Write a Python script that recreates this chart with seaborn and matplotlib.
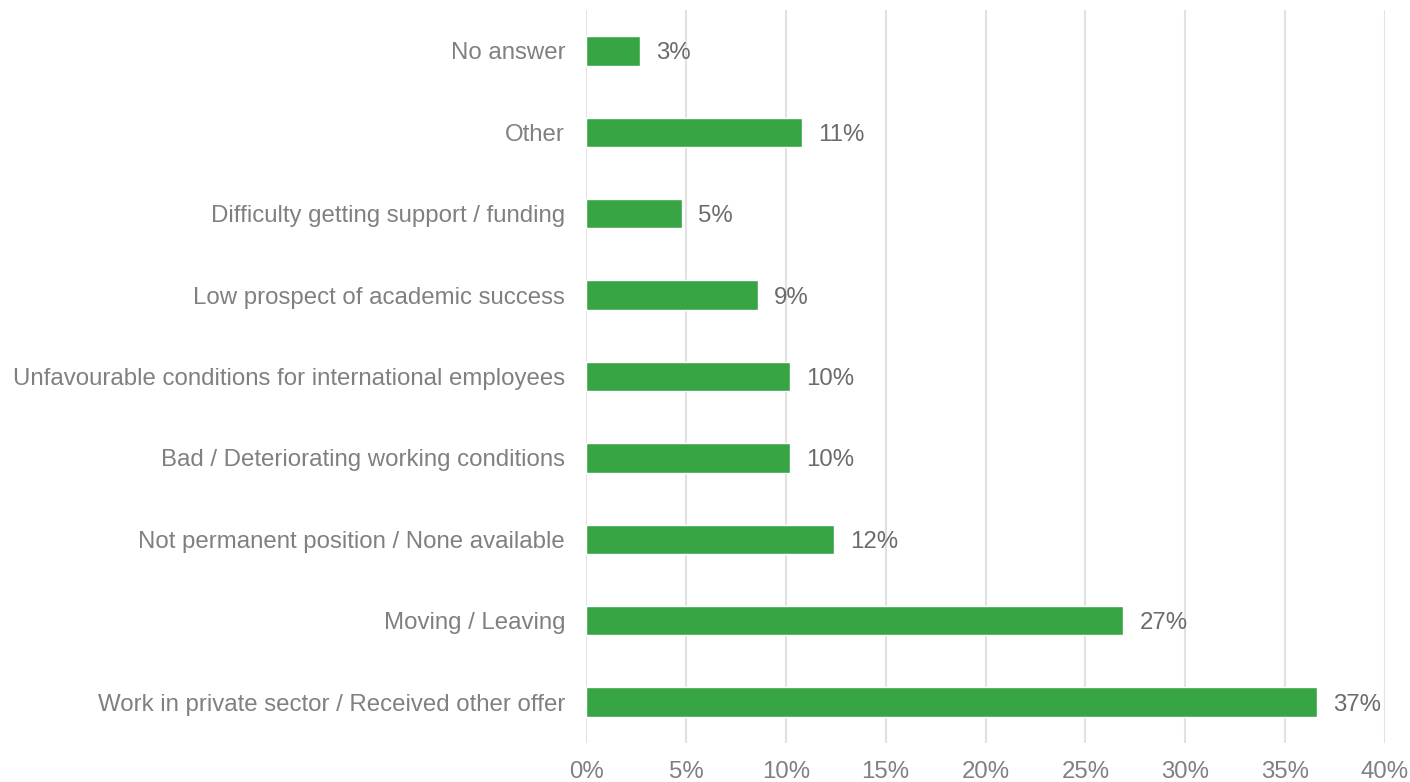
import matplotlib
matplotlib.use("Agg")
import matplotlib.pyplot as plt
import seaborn as sns
import pandas as pd
from matplotlib.ticker import FuncFormatter

categories = [
    "No answer",
    "Other",
    "Difficulty getting support / funding",
    "Low prospect of academic success",
    "Unfavourable conditions for international employees",
    "Bad / Deteriorating working conditions",
    "Not permanent position / None available",
    "Moving / Leaving",
    "Work in private sector / Received other offer",
]
shares = [2.7, 10.8, 4.8, 8.6, 10.2, 10.2, 12.4, 26.9, 36.6]
x_ticks = [0, 5, 10, 15, 20, 25, 30, 35, 40]

df = pd.DataFrame({"reason": categories, "share": shares})

sns.set_theme(style="white")
plt.rcParams["font.family"] = ["Liberation Sans", "DejaVu Sans"]

fig = plt.figure(figsize=(14.1, 7.82), dpi=100)
ax = fig.add_axes([586 / 1410, 1 - 742.7 / 782, (1385 - 586) / 1410, (742.7 - 10.3) / 782])

sns.barplot(data=df, y="reason", x="share", orient="h", color="#38A544",
            saturation=1, width=0.36, ax=ax, zorder=3)

ax.set_xlim(0, 40)
ax.set_xticks(x_ticks)
ax.xaxis.set_major_formatter(FuncFormatter(lambda v, p: f"{v:.0f}%"))
ax.grid(axis="x", color="#e2e2e2", linewidth=1.5, zorder=0)
ax.grid(axis="y", visible=False)
for s in ax.spines.values():
    s.set_visible(False)
ax.tick_params(axis="x", length=0, pad=13.5, labelsize=17.3, labelcolor="#808080")
ax.tick_params(axis="y", length=0, pad=15, labelsize=17.3, labelcolor="#808080")
ax.set_xlabel("")
ax.set_ylabel("")

for i, v in enumerate(shares):
    ax.annotate(f"{v:.0f}%", xy=(v, i), xytext=(16, 0), textcoords="offset pixels",
                va="center_baseline", ha="left", fontsize=17.3, color="#6b6b6b")

fig.savefig("out.png", dpi=100)
